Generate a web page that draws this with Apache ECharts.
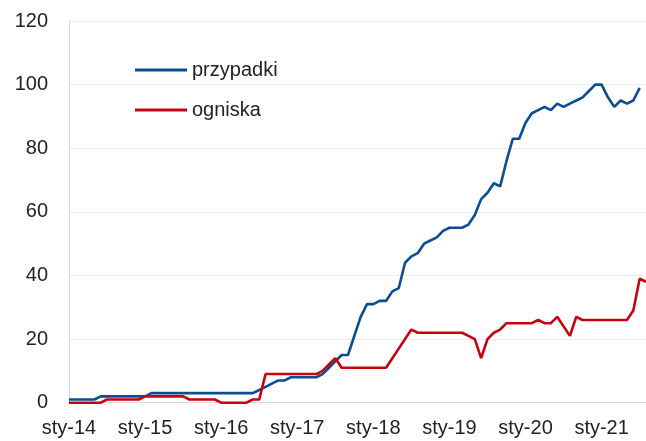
<!DOCTYPE html>
<html>
<head>
<meta charset="utf-8">
<script src="https://cdn.jsdelivr.net/npm/echarts@6/dist/echarts.min.js"></script>
<style>
html,body{margin:0;padding:0;background:#fff;}
#chart{width:646px;height:441px;}
</style>
</head>
<body>
<div id="chart"></div>
<script>
// Polish month abbreviations and years covered (Jan 2014 - Aug 2021)
var monthNames = ['sty','lut','mar','kwi','maj','cze','lip','sie','wrz','paź','lis','gru'];
var years = ['14','15','16','17','18','19','20','21'];
var lastMonthIndexOfLastYear = 7; // Aug 2021

var yTicks = [0, 20, 40, 60, 80, 100, 120];

var przypadki = [
  1,1,1,1,1,
  2,2,2,2,2,2,2,2,
  3,3,3,3,3,3,3,3,3,3,3,3,3,3,3,3,3,
  4,5,6,7,7,8,8,8,8,8,
  9,11,13,15,15,21,27,31,31,32,32,
  35,36,44,46,47,50,51,52,54,55,55,55,56,59,64,66,69,68,76,83,83,
  88,91,92,93,92,94,93,94,95,96,98,100,100,96,93,95,94,95,99,
  null
];

var ogniska = [
  0,0,0,0,0,0,
  1,1,1,1,1,1,
  2,2,2,2,2,2,2,
  1,1,1,1,1,
  0,0,0,0,0,
  1,1,
  9,9,9,9,9,9,9,9,9,
  10,12,14,
  11,11,11,11,11,11,11,11,
  14,17,20,23,
  22,22,22,22,22,22,22,22,
  21,20,14,20,22,23,
  25,25,25,25,25,
  26,25,25,27,24,21,27,
  26,26,26,26,26,26,26,26,
  29,39,38
];

var categories = [];
years.forEach(function (y, yi) {
  monthNames.forEach(function (m, mi) {
    if (yi === years.length - 1 && mi > lastMonthIndexOfLastYear) return;
    categories.push(m + '-' + y);
  });
});

var FONT = '"Liberation Sans", Arial, sans-serif';
var chart = echarts.init(document.getElementById('chart'), null, {renderer: 'canvas'});
chart.setOption({
  animation: false,
  backgroundColor: '#ffffff',
  grid: {left: 69, right: 0, top: 21, bottom: 38.3, containLabel: false},
  legend: {
    orient: 'vertical',
    left: 135,
    top: 60,
    padding: 0,
    itemGap: 20,
    itemWidth: 52,
    itemHeight: 3,
    icon: 'rect',
    textStyle: {fontFamily: FONT, fontSize: 20, color: '#222222'},
    data: ['przypadki', 'ogniska']
  },
  xAxis: {
    type: 'category',
    data: categories,
    boundaryGap: false,
    axisLine: {show: true, lineStyle: {color: '#d9d9d9', width: 1}},
    axisTick: {show: false},
    axisLabel: {interval: 11, fontFamily: FONT, fontSize: 20, color: '#222222', margin: 16},
    splitLine: {show: false}
  },
  yAxis: {
    type: 'value',
    min: yTicks[0],
    max: yTicks[yTicks.length - 1],
    interval: 20,
    axisLine: {show: true, lineStyle: {color: '#d9d9d9', width: 1}},
    axisTick: {show: false},
    axisLabel: {fontFamily: FONT, fontSize: 20, color: '#222222', margin: 21},
    splitLine: {show: true, lineStyle: {color: '#ececec', width: 1}}
  },
  series: [
    {
      name: 'przypadki',
      type: 'line',
      data: przypadki,
      showSymbol: false,
      symbol: 'none',
      color: '#0a4d92',
      lineStyle: {color: '#0a4d92', width: 2.6},
      z: 2
    },
    {
      name: 'ogniska',
      type: 'line',
      data: ogniska,
      showSymbol: false,
      symbol: 'none',
      color: '#c8000f',
      lineStyle: {color: '#c8000f', width: 2.6},
      z: 3
    }
  ]
});
</script>
</body>
</html>
